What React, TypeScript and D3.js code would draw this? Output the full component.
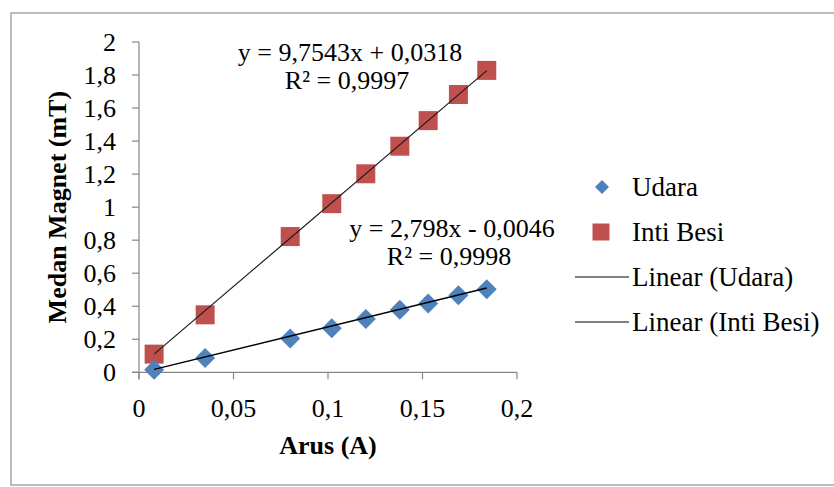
import React from 'react';
import * as d3 from 'd3';

const width = 834;
const height = 487;
const margin = { top: 42, right: 317, bottom: 114, left: 139 };

// Arus (A) readings and the two measured series (mT)
const arus = [0.008, 0.035, 0.08, 0.102, 0.12, 0.138, 0.153, 0.169, 0.184];
const udara = [0.016, 0.086, 0.205, 0.266, 0.322, 0.378, 0.417, 0.467, 0.503];
const intiBesi = [0.11, 0.348, 0.822, 1.021, 1.202, 1.369, 1.524, 1.682, 1.828];

// trendline coefficients as printed on the chart
const udaraFit = [2.798, -0.0046];
const intiBesiFit = [9.7543, 0.0318];

const xTicks = [0, 0.05, 0.1, 0.15, 0.2];
const yTicks = [0, 0.2, 0.4, 0.6, 0.8, 1, 1.2, 1.4, 1.6, 1.8, 2];

const legendLabels = ['Udara', 'Inti Besi', 'Linear (Udara)', 'Linear (Inti Besi)'];

const blue = '#4F81BD';
const red = '#C0504D';
const axisColor = '#868686';
const font = "'Liberation Serif', 'DejaVu Serif', serif";

const locale = d3.formatLocale({ decimal: ',', thousands: '.', grouping: [3], currency: ['', ''] });
const fmt = locale.format('~g');

const App = () => {
  const x = d3.scaleLinear().domain([0, 0.2]).range([margin.left, width - margin.right]);
  const y = d3.scaleLinear().domain([0, 2]).range([height - margin.bottom - 0.7, margin.top]);

  const square = (s) => d3.symbol(d3.symbolSquare, s * s)();
  const diamond = (diag) => d3.symbol(d3.symbolSquare, (diag * diag) / 2)();

  const fitLine = ([m, b]) => {
    const xs = d3.extent(arus);
    return d3.line()(xs.map((v) => [x(v), y(m * v + b)]));
  };

  const x0 = x(0);
  const yBase = y(0);

  return (
    <svg
      width={width}
      height={height}
      style={{ position: 'absolute', left: 0, top: 0, background: 'white', fontFamily: font }}
    >
      <rect x={11} y={13} width={840} height={472} fill="white" stroke="#a6a6a6" strokeWidth={1.5} />

      {/* axes */}
      <g stroke={axisColor} strokeWidth={1.2} fill="none">
        <line x1={x0} x2={x0} y1={y(2)} y2={yBase + 7} />
        <line x1={x0 - 7} x2={x(0.2)} y1={yBase} y2={yBase} />
        {yTicks.map((t) => (
          <line key={'yt' + t} x1={x0 - 7} x2={x0} y1={y(t)} y2={y(t)} />
        ))}
        {xTicks.map((t) => (
          <line key={'xt' + t} x1={x(t)} x2={x(t)} y1={yBase} y2={yBase + 7} />
        ))}
      </g>

      {yTicks.map((t) => (
        <text key={'yl' + t} x={116} y={y(t)} dy="0.34em" textAnchor="end" fontSize={26}>
          {fmt(t)}
        </text>
      ))}
      {xTicks.map((t) => (
        <text key={'xl' + t} x={x(t)} y={417} textAnchor="middle" fontSize={26}>
          {fmt(t)}
        </text>
      ))}

      <text x={(x(0) + x(0.2)) / 2} y={454} textAnchor="middle" fontSize={26} fontWeight="bold">
        Arus (A)
      </text>
      <text
        transform={`translate(66, ${(y(0) + y(2)) / 2}) rotate(-90)`}
        textAnchor="middle"
        fontSize={26}
        fontWeight="bold"
      >
        Medan Magnet (mT)
      </text>

      {/* markers */}
      {arus.map((v, i) => (
        <path key={'ib' + i} d={square(19)} transform={`translate(${x(v)},${y(intiBesi[i])})`} fill={red} />
      ))}
      {arus.map((v, i) => (
        <path
          key={'ud' + i}
          d={diamond(20)}
          transform={`translate(${x(v)},${y(udara[i])}) rotate(45)`}
          fill={blue}
        />
      ))}

      {/* trendlines */}
      <path d={fitLine(intiBesiFit)} stroke="#1a1a1a" strokeWidth={1.2} fill="none" />
      <path d={fitLine(udaraFit)} stroke="#000" strokeWidth={1.5} fill="none" />

      {/* equations */}
      <g fontSize={26} textAnchor="middle">
        <text x={350} y={61}>y = 9,7543x + 0,0318</text>
        <text x={347} y={89}>R² = 0,9997</text>
        <text x={452} y={237}>y = 2,798x - 0,0046</text>
        <text x={449} y={265}>R² = 0,9998</text>
      </g>

      {/* legend */}
      <g fontSize={27}>
        {legendLabels.map((label, i) => {
          const cy = 187 + i * 45;
          return (
            <g key={label}>
              {i === 0 && <path d={diamond(14)} transform={`translate(602,${cy}) rotate(45)`} fill={blue} />}
              {i === 1 && <path d={square(17)} transform={`translate(601,${cy})`} fill={red} />}
              {i > 1 && <line x1={575} x2={629} y1={cy} y2={cy} stroke="#000" strokeWidth={1.2} />}
              <text x={632} y={cy} dy="0.34em">
                {label}
              </text>
            </g>
          );
        })}
      </g>
    </svg>
  );
};

export default App;
